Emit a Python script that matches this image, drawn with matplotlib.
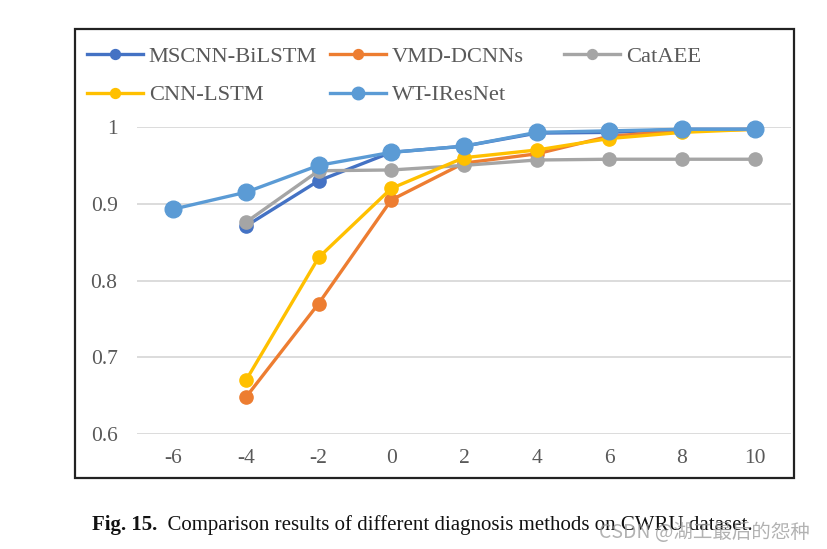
import matplotlib
matplotlib.use("Agg")
import matplotlib.pyplot as plt
from matplotlib.patches import Rectangle

# datos
snr = [-6, -4, -2, 0, 2, 4, 6, 8, 10]
mscnn_bilstm = [None, 0.871, 0.930, 0.967, 0.975, 0.992, 0.993, 0.997, 0.997]
vmd_dcnns = [None, 0.648, 0.770, 0.905, 0.953, 0.965, 0.988, 0.995, 0.997]
cataee = [None, 0.876, 0.943, 0.944, 0.950, 0.957, 0.958, 0.958, 0.958]
cnn_lstm = [None, 0.670, 0.830, 0.920, 0.960, 0.970, 0.985, 0.993, 0.997]
wt_iresnet = [0.893, 0.915, 0.950, 0.967, 0.975, 0.993, 0.995, 0.997, 0.997]

names = ["MSCNN-BiLSTM", "VMD-DCNNs", "CatAEE", "CNN-LSTM", "WT-IResNet"]
colors = ["#4472C4", "#ED7D31", "#A5A5A5", "#FFC000", "#5B9BD5"]
series = [mscnn_bilstm, vmd_dcnns, cataee, cnn_lstm, wt_iresnet]
yticks = [0.6, 0.7, 0.8, 0.9, 1.0]
ylabels = ["0.6", "0.7", "0.8", "0.9", "1"]

plt.rcParams['font.family'] = ['Liberation Serif', 'DejaVu Serif']

fig = plt.figure(figsize=(8.27, 5.49), dpi=100)
ax = fig.add_axes([137/827, 1-434/549, (791-137)/827, (434-127)/549])

# marco exterior
fig.add_artist(Rectangle((75/827, 1-478/549), (794-75)/827, (478-29)/549,
                         transform=fig.transFigure, fill=False,
                         edgecolor="#222222", linewidth=1.6))

lines = {}
for name, col, vals in zip(names, colors, series):
    xs = [x for x, v in zip(snr, vals) if v is not None]
    ys = [v for v in vals if v is not None]
    ms = 12 if name == "WT-IResNet" else 9.5
    l, = ax.plot(xs, ys, color=col, linewidth=2.4, marker="o", markersize=ms,
                 clip_on=False, label=name)
    lines[name] = l

ax.set_xlim(-7, 11)
ax.set_ylim(0.6, 1.0)
ax.set_xticks(snr)
ax.set_xticklabels([str(s) for s in snr])
ax.set_yticks(yticks)
ax.set_yticklabels(ylabels)
ax.tick_params(length=0, labelsize=15.5, labelcolor="#595959")
ax.tick_params(axis="y", pad=14)
ax.tick_params(axis="x", pad=11)
for s in ax.spines.values():
    s.set_visible(False)
ax.grid(axis="y", color="#D9D9D9", linewidth=1.3)
ax.set_axisbelow(True)

# leyenda en columnas de ancho fijo (como Excel)
columnas = [["MSCNN-BiLSTM", "CNN-LSTM"], ["VMD-DCNNs", "WT-IResNet"], ["CatAEE"]]
xcol = [87, 330, 564]
for grupo, xc in zip(columnas, xcol):
    fig.legend([lines[n] for n in grupo], grupo,
               loc="upper left", bbox_to_anchor=(xc/827, 1-46/549),
               frameon=False, fontsize=16.2, handlelength=2.5,
               handletextpad=0.25, markerscale=0.75,
               labelspacing=0.8, borderpad=0, borderaxespad=0,
               labelcolor="#595959")

# pie de figura
t1 = fig.text(92/827, 1-530/549, "Fig. 15.", fontsize=15, fontweight="bold",
              va="baseline", color="#111111")
ax.annotate("  Comparison results of different diagnosis methods on CWRU dataset.",
            xy=(1, 0), xycoords=t1, va="bottom", ha="left", fontsize=15,
            color="#111111", annotation_clip=False)

fig.text(810/827, 1-532/549, "CSDN @湖工最后的怨种", fontsize=14, ha="right",
         va="center", color="#999999", alpha=0.75,
         family=['Noto Sans CJK SC', 'DejaVu Sans'])

fig.savefig("out.png", dpi=100)
